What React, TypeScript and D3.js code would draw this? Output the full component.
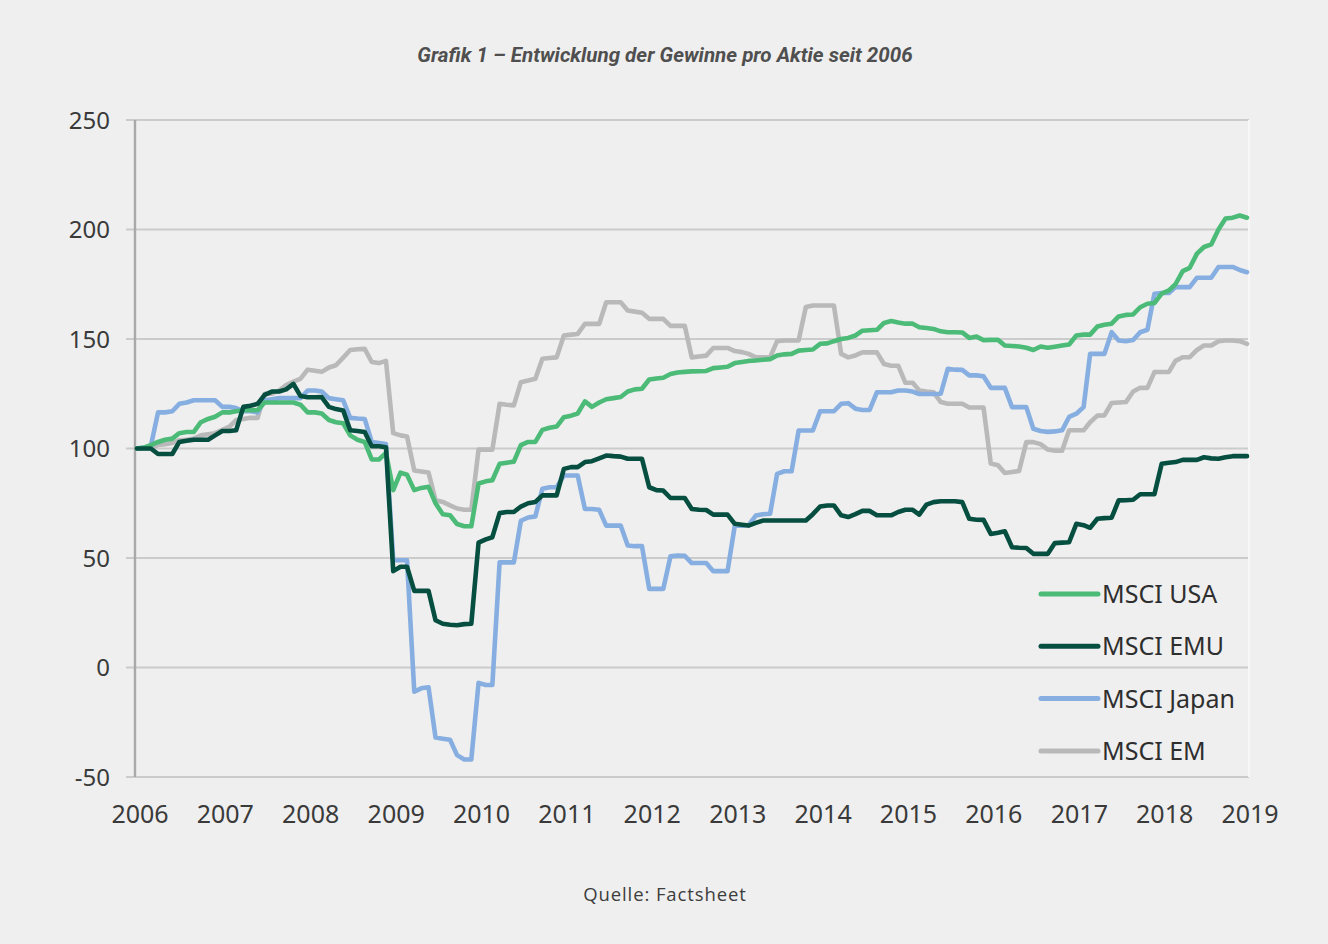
import * as d3 from 'd3';

// monthly values, Jan 2006 .. Jan 2019 (index 2006 = 100)
const usa = [
  100, 100.5, 101.5, 103, 104, 104.5, 107, 107.5, 107.6, 112,
  113.5, 114.5, 116.5, 116.5, 117, 117.5, 117.5, 117.5, 121, 121,
  121, 121, 121, 120, 116.5, 116.5, 116, 113, 112, 111.5,
  106, 104, 103, 95, 95, 98, 81, 89, 88, 81,
  82, 82.5, 75, 70, 69.5, 65.5, 64.5, 64.5, 84, 85,
  85.5, 93, 93.5, 94, 101.5, 103, 103, 108.5, 109.5, 110,
  114.3, 115, 116, 121.5, 119, 121, 122.5, 123, 123.5, 126,
  127, 127.3, 131.5, 132, 132.3, 134, 134.7, 135, 135.2, 135.3,
  135.4, 136.7, 137, 137.3, 139, 139.5, 140, 140.2, 140.5, 140.8,
  142.5, 143, 143.2, 144.7, 145, 145.2, 147.8, 148, 149, 150,
  150.5, 151.6, 153.8, 154, 154.2, 157.3, 158.2, 157.5, 157, 157,
  155.4, 155, 154.6, 153.5, 153.1, 153.1, 153, 150.5, 151.1, 149.5,
  149.6, 149.6, 147, 146.8, 146.6, 146, 145, 146.6, 146, 146.5,
  147, 147.5, 151.6, 152, 152, 155.7, 156.5, 157, 160.3, 161,
  161.2, 164.5, 166.1, 166.4, 170.7, 172.2, 175, 181, 182.5, 189,
  192, 193.2, 200, 205, 205.4, 206.4, 205.4,
];

const emu = [
  100, 100, 100, 97.5, 97.5, 97.5, 103, 103.5, 104, 104,
  104, 106, 108, 108, 108.3, 119, 119.5, 120.4, 124.5, 126,
  126, 127, 129.5, 124, 123.4, 123.4, 123.5, 119, 118, 117.4,
  108.3, 108, 107.5, 101, 101, 100.6, 44, 46, 46, 35,
  35, 35, 21.6, 20, 19.5, 19.3, 19.8, 20, 57, 58.5,
  59.5, 70.5, 71, 71, 73.5, 75, 75.6, 78.6, 78.6, 78.6,
  90.7, 91.5, 91.5, 93.8, 94.2, 95.5, 96.8, 96.5, 96.3, 95.3,
  95.3, 95.3, 82.3, 81, 80.8, 77.4, 77.4, 77.4, 72.4, 72,
  71.9, 69.8, 69.8, 69.8, 65.6, 65.2, 64.8, 66, 67.1, 67.1,
  67.1, 67.1, 67.1, 67.1, 67.1, 70, 73.5, 74, 74, 69.5,
  68.7, 70, 71.5, 71.5, 69.5, 69.5, 69.5, 71, 72, 72,
  69.8, 74.4, 75.5, 75.9, 75.9, 75.9, 75.5, 67.9, 67.5, 67.4,
  61, 61.5, 62.2, 54.9, 54.7, 54.6, 51.9, 51.9, 51.9, 56.8,
  57, 57.2, 65.6, 65, 63.8, 67.9, 68.2, 68.4, 76.3, 76.4,
  76.6, 79.1, 79.1, 79.1, 93, 93.5, 93.8, 94.8, 94.8, 94.8,
  96, 95.5, 95.3, 96, 96.5, 96.5, 96.5,
];

const japan = [
  100, 100.5, 101, 116.5, 116.5, 117, 120.4, 121, 122, 122,
  122, 122, 119, 119, 118.5, 117, 117, 116.5, 122, 122.5,
  123, 123, 123, 123, 126.5, 126.5, 126, 123, 122.5, 122,
  114, 113.7, 113.5, 103, 102.5, 102, 49, 49, 49, -11,
  -9.5, -9, -32, -32.5, -33, -40, -42, -42, -7, -8,
  -8, 48, 48, 48, 67, 68.5, 69, 81.6, 82.3, 82.3,
  87.7, 87.7, 87.7, 72.4, 72.4, 72, 64.8, 64.8, 64.8, 55.7,
  55.4, 55.4, 35.9, 35.9, 35.9, 50.8, 51.1, 51, 47.7, 47.7,
  47.7, 44, 44, 44, 64.8, 64.8, 65, 69.4, 70, 70.2,
  88.4, 89.6, 89.6, 108.2, 108.2, 108.2, 117, 117, 117, 120.4,
  120.7, 118.2, 117.6, 117.6, 125.7, 125.7, 125.7, 126.5, 126.5, 126,
  124.9, 124.9, 124.9, 125, 136.4, 136, 135.9, 133.4, 133.4, 133,
  127.7, 127.7, 127.7, 118.9, 118.9, 118.9, 109, 108, 107.6, 107.8,
  108.3, 114.4, 115.9, 118.9, 143.2, 143.2, 143.2, 153.1, 149.3, 149,
  149.5, 153.1, 154.2, 170.7, 171, 171, 173.7, 173.7, 173.7, 178,
  178, 178, 182.9, 182.9, 182.9, 181.5, 180.5,
];

const em = [
  100, 100, 100, 101.6, 102, 102.5, 103.8, 104, 104.5, 106,
  106.5, 107, 108.5, 110, 113, 113.5, 114, 114, 125, 125,
  126.5, 129, 130.5, 131.8, 136, 135.5, 135, 137, 138, 141.5,
  145, 145.3, 145.5, 139.5, 139, 140, 107, 106, 105.5, 90,
  89.5, 89, 76.4, 75.6, 74, 72.6, 72, 72, 99.5, 99.5,
  99.5, 120.4, 120, 119.7, 130.3, 131, 131.8, 141, 141.3, 141.6,
  151.6, 152, 152.3, 156.9, 156.9, 156.9, 166.8, 166.8, 166.8, 163,
  162.5, 162, 159.2, 159.2, 159.2, 156, 156, 156, 141.6, 142,
  142.4, 145.9, 145.9, 145.9, 144.5, 144, 143.2, 141.6, 141.6, 141.6,
  149, 149.3, 149.3, 149.3, 164.6, 165.3, 165.3, 165.3, 165.3, 143.2,
  141.6, 142.5, 143.9, 143.9, 143.9, 138.6, 137.8, 137.8, 130, 130,
  126.5, 126, 125.7, 121.2, 120.4, 120.4, 120.4, 118.7, 118.7, 118.7,
  93.1, 92.4, 88.8, 89.3, 89.7, 102.9, 102.9, 102, 99.5, 99,
  99, 108.3, 108.3, 108.3, 112, 115, 115.1, 120.8, 121, 121.2,
  126, 127.7, 127.7, 134.9, 134.9, 135, 140, 141.7, 141.7, 145,
  147, 147, 149, 149.3, 149.3, 149, 147.8,
];

const months = d3.timeMonth.range(new Date(2006, 0, 1), new Date(2019, 1, 1));
const yearTicks = d3.range(2006, 2020);
const yTicks = [-50, 0, 50, 100, 150, 200, 250];

const seriesNames = ['MSCI USA', 'MSCI EMU', 'MSCI Japan', 'MSCI EM'];
const seriesColors = ['#4cbb78', '#064f40', '#86aee0', '#b9b9b9'];
const seriesValues = [usa, emu, japan, em];

const W = 1328;
const H = 944;
const plot = { left: 135, right: 1249, top: 120, bottom: 777 };

export default function App() {
  const x = d3.scaleTime()
    .domain([new Date(2006, 0, 1), new Date(2019, 0, 1)])
    .range([137, 1247]);
  const y = d3.scaleLinear().domain([-50, 250]).range([plot.bottom, plot.top]);

  const line = d3.line<number>()
    .x((_, i) => x(months[i]))
    .y(d => y(d));

  // draw order: EM and Japan underneath, USA and EMU on top
  const drawOrder = [3, 2, 0, 1];

  return (
    <svg width={W} height={H} style={{ position: 'absolute', left: 0, top: 0, background: '#efefef' }}>
      <rect x={0} y={0} width={W} height={H} fill="#efefef" />
      <text x={665} y={62} textAnchor="middle" fontFamily="Roboto" fontStyle="italic" fontWeight={700}
        fontSize={20.6} fill="#4f4f4f">
        Grafik 1 – Entwicklung der Gewinne pro Aktie seit 2006
      </text>

      {yTicks.map(t => (
        <g key={t}>
          <line x1={126} x2={plot.right} y1={y(t)} y2={y(t)} stroke="#cbcbcb" strokeWidth={1.8} />
          <text x={110} y={y(t)} dy="0.36em" textAnchor="end" fontFamily="'Noto Sans'" fontSize={24} fill="#3a3a3a">
            {t}
          </text>
        </g>
      ))}
      <line x1={plot.left} x2={plot.left} y1={plot.top} y2={plot.bottom} stroke="#a9a9a9" strokeWidth={2.4} />
      <line x1={plot.right} x2={plot.right} y1={plot.top} y2={plot.bottom} stroke="#f7f7f7" strokeWidth={2} />

      {yearTicks.map(yr => (
        <text key={yr} x={x(new Date(yr, 0, 1)) + 3} y={823} textAnchor="middle" fontFamily="'Noto Sans'"
          fontSize={25} fill="#3a3a3a">
          {yr}
        </text>
      ))}

      {drawOrder.map(i => (
        <path key={seriesNames[i]} d={line(seriesValues[i]) ?? ''} fill="none" stroke={seriesColors[i]}
          strokeWidth={4.6} strokeLinejoin="round" strokeLinecap="round" />
      ))}

      {seriesNames.map((name, i) => {
        const ly = 594 + i * 52.3;
        return (
          <g key={name}>
            <line x1={1041} x2={1098} y1={ly} y2={ly} stroke={seriesColors[i]} strokeWidth={5} strokeLinecap="round" />
            <text x={1102} y={ly} dy="0.36em" fontFamily="'Noto Sans'" fontSize={25} fill="#2e2e2e">{name}</text>
          </g>
        );
      })}

      <text x={665} y={901} textAnchor="middle" fontFamily="'Open Sans'" fontSize={18.5} fill="#3d3d3d"
        letterSpacing={0.9}>
        Quelle: Factsheet
      </text>
    </svg>
  );
}
